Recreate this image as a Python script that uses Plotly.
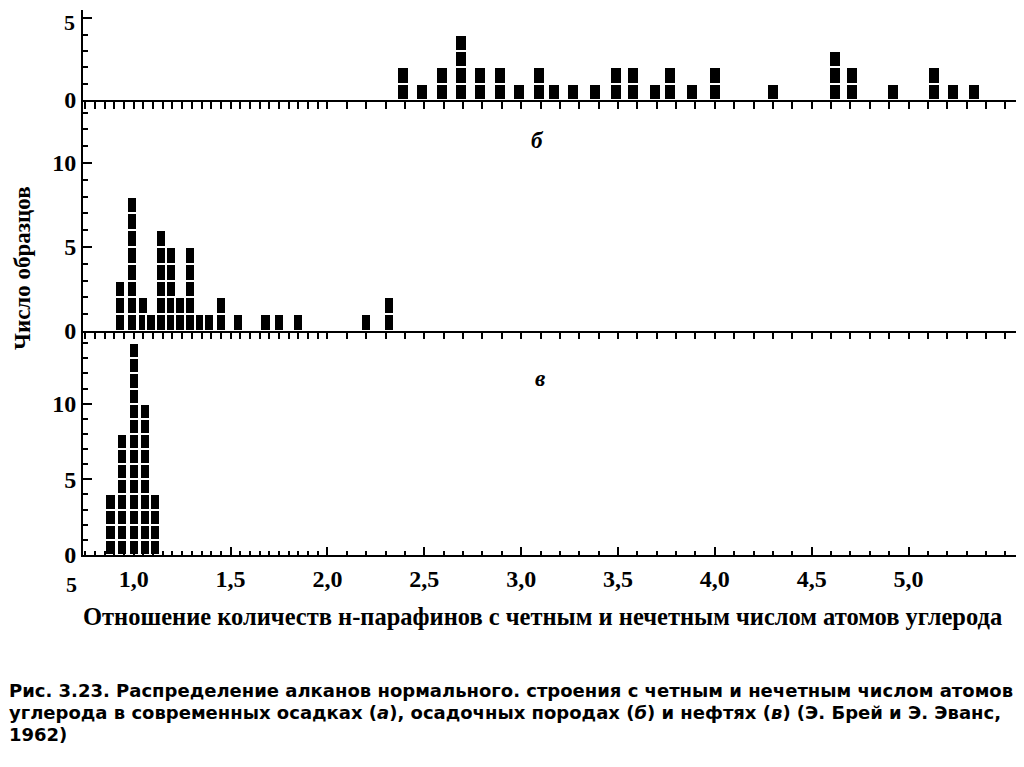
import numpy as np
import plotly.graph_objects as go

# --- data -----------------------------------------------------------------
# (а) modern sediments
a_ratio = [2.39, 2.49, 2.59, 2.69, 2.79, 2.89, 2.99, 3.09, 3.17, 3.27, 3.38, 3.49,
           3.58, 3.69, 3.77, 3.88, 4.00, 4.30, 4.62, 4.71, 4.92, 5.13, 5.23, 5.34]
a_count = [2, 1, 2, 4, 2, 2, 1, 2, 1, 1, 1, 2, 2, 1, 2, 1, 2, 1, 3, 2, 1, 2, 1, 1]
# (б) sedimentary rocks
b_ratio = [0.93, 0.99, 1.05, 1.09, 1.14, 1.19, 1.24, 1.29, 1.34, 1.39, 1.45, 1.54,
           1.68, 1.75, 1.85, 2.20, 2.32]
b_count = [3, 8, 2, 1, 6, 5, 2, 5, 1, 1, 2, 1, 1, 1, 1, 1, 2]
# (в) oils
c_ratio = [0.88, 0.94, 1.00, 1.06, 1.11]
c_count = [4, 8, 14, 10, 4]

x_major = [1.0, 1.5, 2.0, 2.5, 3.0, 3.5, 4.0, 4.5, 5.0]
x_major_text = ["1,0", "1,5", "2,0", "2,5", "3,0", "3,5", "4,0", "4,5", "5,0"]
x_minor = list(np.round(np.arange(0.75, 2.001, 0.05), 2)) + list(np.round(np.arange(2.1, 5.51, 0.1), 2))

y_label = "Число образцов"
x_title = "Отношение количеств н-парафинов с четным и нечетным числом атомов углерода"
caption = [
    "Рис. 3.23. Распределение алканов нормального. строения с четным и нечетным числом атомов",
    "углерода в современных осадках (<i>а</i>), осадочных породах (<i>б</i>) и нефтях (<i>в</i>) (Э. Брей и Э. Эванс,",
    "1962)",
]

SERIF = "Liberation Serif"
CAPFONT = "DejaVu Sans"


def blocks(ratios, counts):
    xs, bases = [], []
    for r, c in zip(ratios, counts):
        for k in range(c):
            xs.append(r)
            bases.append(k)
    return xs, bases


fig = go.Figure()
for ratios, counts, xa, ya, w in [
    (a_ratio, a_count, "x3", "y3", 0.062),
    (b_ratio, b_count, "x2", "y2", 0.052),
    (c_ratio, c_count, "x", "y", 0.052),
]:
    xs, bases = blocks(ratios, counts)
    fig.add_trace(go.Bar(
        x=xs, y=[1] * len(xs), base=bases, width=w,
        marker=dict(color="black", line=dict(color="white", width=2)),
        xaxis=xa, yaxis=ya, showlegend=False, hoverinfo="skip",
    ))

# page body has an 8px margin; work in reference-pixel coordinates
OFF = 8
W, H = 1024 - OFF, 767 - OFF
RL, RR, RT, RB = 83, 1017, 10, 555
pw, ph = RR - RL, RB - RT


def py(pix):  # reference pixel row -> paper y
    return (RB - pix) / ph


def px(pix):  # reference pixel column -> paper x
    return (pix - RL) / pw


xrange = [0.738, 5.56]
axis_common = dict(showline=True, linecolor="black", linewidth=2, showgrid=False,
                   zeroline=False, tickcolor="black", tickwidth=2)
yfont = dict(family=SERIF, size=24, color="black", weight="bold")
yminor = dict(dtick=1, ticks="inside", ticklen=5, tickcolor="black", tickwidth=1.5)

fig.update_layout(
    width=W, height=H,
    margin=dict(l=RL - OFF, r=W - (RR - OFF), t=RT - OFF, b=H - (RB - OFF)),
    paper_bgcolor="white", plot_bgcolor="white",
    barmode="overlay", bargap=0,
    xaxis=dict(**axis_common, range=xrange, anchor="y", tickmode="array",
               tickvals=x_major, ticktext=x_major_text, ticks="inside", ticklen=8,
               ticklabelstandoff=1,
               tickfont=dict(family=SERIF, size=24, color="black", weight="bold"),
               minor=dict(tickmode="array", tickvals=x_minor, ticks="inside",
                          ticklen=4, tickwidth=1.5, tickcolor="black")),
    xaxis2=dict(**axis_common, range=xrange, anchor="y2", matches="x",
                tickmode="array", tickvals=x_minor, ticks="outside", ticklen=6,
                showticklabels=False),
    xaxis3=dict(**axis_common, range=xrange, anchor="y3", matches="x",
                tickmode="array", tickvals=x_minor, ticks="outside", ticklen=7,
                showticklabels=False),
    yaxis=dict(**axis_common, domain=[0, py(331)], range=[0, 14.8], anchor="x",
               tickmode="array", tickvals=[0, 5, 10], ticks="inside", ticklen=9,
               mirror=True, tickfont=yfont, minor=yminor),
    yaxis2=dict(**axis_common, domain=[py(331), py(100)], range=[0, 13.75], anchor="x2",
                tickmode="array", tickvals=[0, 5, 10], ticks="inside", ticklen=9,
                mirror=True, tickfont=yfont, minor=yminor),
    yaxis3=dict(**axis_common, domain=[py(100), 1], range=[0, 5.5], anchor="x3",
                tickmode="array", tickvals=[0, 5], ticktext=["0", ""], ticks="inside", ticklen=9,
                mirror=True, tickfont=yfont, minor=yminor),
)

ann = []


def add_text(text, x, y, size, xanchor="center", yanchor="middle", angle=0, family=SERIF, weight=None):
    f = dict(family=family, size=size, color="black")
    if weight:
        f["weight"] = weight
    ann.append(dict(text=text, x=px(x), y=py(y), xref="paper", yref="paper",
                    xanchor=xanchor, yanchor=yanchor, textangle=angle,
                    showarrow=False, font=f))


# leftmost x label and the top panel's "5" label
add_text("5", 71, 584, 22, weight="bold")
add_text("5", 77, 22, 22, xanchor="right", weight="bold")
# panel letters
add_text("<b><i>б</i></b>", 537, 140, 23)
add_text("<b><i>в</i></b>", 540, 378, 23)
# axis titles
add_text("<b>" + y_label + "</b>", 22, 268, 23, angle=-90)
add_text("<b>" + x_title + "</b>", 542, 616, 24.5)
# caption
for line, yy in zip(caption, [690, 712, 734]):
    add_text("<b>" + line + "</b>", 7, yy, 18, xanchor="left", family=CAPFONT)

fig.update_layout(annotations=ann)

fig.write_html("out.html")
